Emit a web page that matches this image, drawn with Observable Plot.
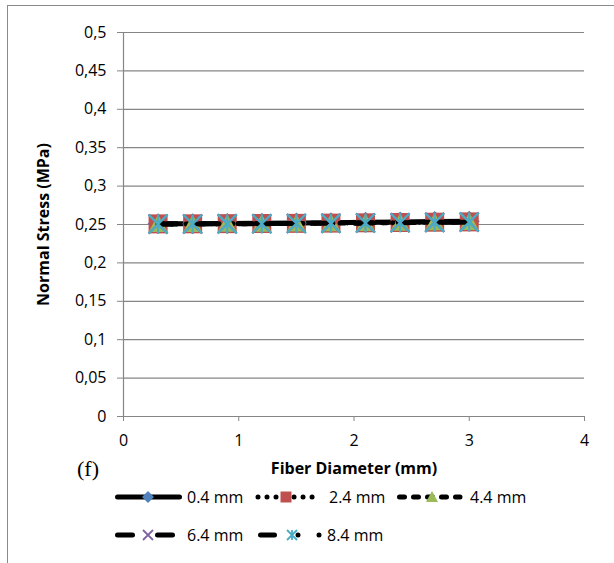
<!DOCTYPE html>
<html>
<head>
<meta charset="utf-8">
<script src="https://cdn.jsdelivr.net/npm/d3@7"></script>
<script src="https://cdn.jsdelivr.net/npm/@observablehq/plot@0.6"></script>
<style>
  html, body { margin: 0; padding: 0; background: #fff; }
  #wrap { position: relative; width: 614px; height: 563px; overflow: hidden; background: #fff; }
  #frame { position: absolute; left: 7px; top: 5px; width: 640px; height: 600px;
           border-left: 1.5px solid #8a8a8a; border-top: 1.5px solid #8a8a8a; }
  #chart { position: absolute; left: 0; top: 0; }
  #legend { position: absolute; left: 0; top: 480px; }
  #tag { position: absolute; left: 77px; top: 455px; font-family: "Liberation Serif", "DejaVu Serif", serif;
         font-size: 22px; line-height: 28px; }
</style>
</head>
<body>
<div id="wrap">
  <div id="frame"></div>
  <div id="chart"></div>
  <div id="tag">(f)</div>
  <div id="legend"></div>
</div>
<script>
// ---- data ----
const diameters = [0.3, 0.6, 0.9, 1.2, 1.5, 1.8, 2.1, 2.4, 2.7, 3.0];
const seriesNames = ["0.4 mm", "2.4 mm", "4.4 mm", "6.4 mm", "8.4 mm"];
const stress04 = [0.2510, 0.2511, 0.2513, 0.2515, 0.2518, 0.2522, 0.2528, 0.2533, 0.2538, 0.2543];
const stress24 = [0.2508, 0.2509, 0.2511, 0.2513, 0.2515, 0.2518, 0.2522, 0.2526, 0.2530, 0.2534];
const stress44 = [0.2507, 0.2508, 0.2510, 0.2512, 0.2514, 0.2517, 0.2521, 0.2525, 0.2529, 0.2533];
const stress64 = [0.2506, 0.2507, 0.2509, 0.2511, 0.2513, 0.2516, 0.2520, 0.2524, 0.2528, 0.2532];
const stress84 = [0.2505, 0.2506, 0.2508, 0.2510, 0.2512, 0.2515, 0.2519, 0.2523, 0.2527, 0.2531];
const xTicks = [0, 1, 2, 3, 4];
const yTicks = [0, 0.05, 0.1, 0.15, 0.2, 0.25, 0.3, 0.35, 0.4, 0.45, 0.5];
const xTitle = "Fiber Diameter (mm)";
const yTitle = "Normal Stress (MPa)";

// ---- custom Excel-like marker symbols (size = side^2) ----
const symDiamond = { draw(c, size) { const h = Math.sqrt(size) / 2; c.moveTo(0, -h); c.lineTo(h, 0); c.lineTo(0, h); c.lineTo(-h, 0); c.closePath(); } };
const symSquare = { draw(c, size) { const h = Math.sqrt(size) / 2; c.moveTo(-h, -h); c.lineTo(h, -h); c.lineTo(h, h); c.lineTo(-h, h); c.closePath(); } };
const symTriangle = { draw(c, size) { const h = Math.sqrt(size) / 2; c.moveTo(0, -h); c.lineTo(h, h * 0.85); c.lineTo(-h, h * 0.85); c.closePath(); } };
const symX = { draw(c, size) { const h = Math.sqrt(size) / 2; c.moveTo(-h, -h); c.lineTo(h, h); c.moveTo(-h, h); c.lineTo(h, -h); } };
const symStar = { draw(c, size) { const h = Math.sqrt(size) / 2; c.moveTo(-h, -h); c.lineTo(h, h); c.moveTo(-h, h); c.lineTo(h, -h); c.moveTo(0, -h); c.lineTo(0, h); } };
const rFor = side => side / Math.sqrt(Math.PI);

const styles = [
  { name: seriesNames[0], values: stress04, dash: null, symbol: symDiamond, color: "#4F81BD", filled: true, side: 21, lside: 12 },
  { name: seriesNames[1], values: stress24, dash: "0.01,9", symbol: symSquare, color: "#C0504D", filled: true, side: 19, lside: 11 },
  { name: seriesNames[2], values: stress44, dash: "5,9", symbol: symTriangle, color: "#9BBB59", filled: true, side: 19, lside: 12 },
  { name: seriesNames[3], values: stress64, dash: "15,25", symbol: symX, color: "#8064A2", filled: false, side: 19, lside: 10 },
  { name: seriesNames[4], values: stress84, dash: "14,23.5,0.01,21,0.01,40", symbol: symStar, color: "#4BACC6", filled: false, side: 19, lside: 10 }
];

const rows = styles.flatMap(s => diameters.map((d, i) => ({ series: s.name, x: d, y: s.values[i] })));
const fmt = d => String(d).replace(".", ",");
const grid = "#868686";

const seriesMarks = styles.flatMap(s => {
  const data = rows.filter(r => r.series === s.name);
  return [
    Plot.line(data, { x: "x", y: "y", stroke: "#000", strokeWidth: 5, strokeLinecap: "round",
                      strokeDasharray: s.dash || undefined }),
    Plot.dot(data, { x: "x", y: "y", symbol: s.symbol, r: rFor(s.side),
                     fill: s.filled ? s.color : "none", stroke: s.filled ? "none" : s.color,
                     strokeWidth: s.filled ? 0 : 2.2 })
  ];
});

const chart = Plot.plot({
  width: 614,
  height: 490,
  marginLeft: 123,
  marginRight: 30,
  marginTop: 32,
  marginBottom: 74,
  style: { fontFamily: "'Open Sans', sans-serif", fontSize: "16px", color: "#000", background: "transparent", overflow: "visible" },
  x: { domain: [0, 4] },
  y: { domain: [0, 0.5] },
  marks: [
    Plot.gridY(yTicks, { stroke: grid, strokeOpacity: 1, strokeWidth: 1.2 }),
    Plot.ruleX([0], { stroke: grid, strokeWidth: 1.2 }),
    Plot.axisY({ ticks: yTicks, tickFormat: fmt, tickSize: 6, tickPadding: 11, stroke: grid, strokeOpacity: 1, label: null, fill: "#000", fontSize: 16 }),
    Plot.axisX({ ticks: xTicks, tickFormat: d => String(d), tickSize: 5, tickPadding: 13, stroke: grid, strokeOpacity: 1, label: null, fill: "#000", fontSize: 16 }),
    ...seriesMarks,
    Plot.text([xTitle], { frameAnchor: "bottom", dy: 57, text: d => d, fontWeight: "bold", fontSize: 16, fill: "#000", textAnchor: "middle" }),
    Plot.text([yTitle], { frameAnchor: "left", dx: -80, rotate: -90, text: d => d, fontWeight: "bold", fontSize: 16, fill: "#000", textAnchor: "middle" })
  ]
});
document.getElementById("chart").appendChild(chart);

// ---- legend (below the plot) ----
const legendItems = [
  { s: styles[0], y: 17, x1: 117.5, x2: 179.5, mx: 148, tx: 187 },
  { s: styles[1], y: 17, x1: 258, x2: 313, mx: 286, tx: 329 },
  { s: styles[2], y: 17, x1: 399.5, x2: 460, mx: 432, tx: 470 },
  { s: styles[3], y: 55, x1: 117.5, x2: 179.5, mx: 148, tx: 187 },
  { s: styles[4], y: 55, x1: 260.5, x2: 320, mx: 292, tx: 327 }
];
const lsvg = d3.create("svg").attr("width", 614).attr("height", 83)
  .style("font-family", "'Open Sans', sans-serif").style("font-size", "16px");
for (const it of legendItems) {
  const g = lsvg.append("g");
  g.append("line").attr("x1", it.x1).attr("x2", it.x2).attr("y1", it.y).attr("y2", it.y)
    .attr("stroke", "#000").attr("stroke-width", 5).attr("stroke-linecap", "round")
    .attr("stroke-dasharray", it.s.dash);
  g.append("path").attr("transform", `translate(${it.mx},${it.y})`)
    .attr("d", d3.symbol(it.s.symbol, it.s.lside * it.s.lside)())
    .attr("fill", it.s.filled ? it.s.color : "none")
    .attr("stroke", it.s.filled ? "none" : it.s.color)
    .attr("stroke-width", it.s.filled ? 0 : 1.8);
  g.append("text").attr("x", it.tx).attr("y", it.y).attr("dy", "0.35em").attr("fill", "#000").text(it.s.name);
}
document.getElementById("legend").appendChild(lsvg.node());
</script>
</body>
</html>
